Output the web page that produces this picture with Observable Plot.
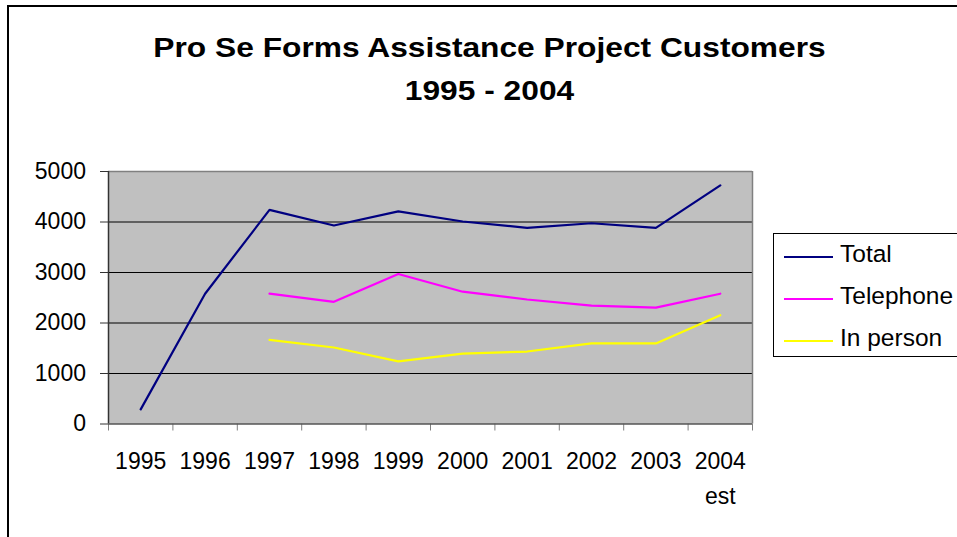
<!DOCTYPE html>
<html><head><meta charset="utf-8">
<script src="https://cdn.jsdelivr.net/npm/d3@7"></script>
<script src="https://cdn.jsdelivr.net/npm/@observablehq/plot@0.6"></script>
<style>
html,body{margin:0;padding:0}
body{width:957px;height:537px;overflow:hidden;background:#fff;position:relative;font-family:"Liberation Sans",Arial,sans-serif}
#border{position:absolute;left:7px;top:5px;width:1200px;height:800px;border:2px solid #000;box-sizing:border-box}
#chart{position:absolute;left:0;top:0}
.title{position:absolute;left:0;width:979px;text-align:center;font-weight:bold;font-size:27px;line-height:27px;white-space:nowrap;transform:scaleX(1.175);transform-origin:489.5px 0}
#legend{position:absolute;left:773px;top:233px;width:400px;height:124px;border:1px solid #000;box-sizing:border-box;background:#fff}
.li{position:absolute;left:0;font-size:24.5px;line-height:24px;white-space:nowrap}
.sw{position:absolute;left:10px;width:49px;height:2px}
.lt{position:absolute;left:66px}
</style></head>
<body>
<div id="border"></div>
<div id="chart"></div>
<div class="title" style="top:34.5px">Pro Se Forms Assistance Project Customers</div>
<div class="title" style="top:77.5px">1995 - 2004</div>
<div id="legend"></div>
<script>
const categories = ["1995","1996","1997","1998","1999","2000","2001","2002","2003","2004\nest"];
const seriesNames = ["Total","Telephone","In person"];
const seriesColors = ["#000080","#FF00FF","#FFFF00"];
const total     = [290, 2580, 4240, 3930, 4210, 4010, 3885, 3975, 3885, 4725];
const telephone = [null, null, 2580, 2420, 2970, 2620, 2465, 2345, 2305, 2580];
const inPerson  = [null, null, 1665, 1515, 1240, 1395, 1435, 1595, 1595, 2155];
const yTicks = [0, 1000, 2000, 3000, 4000, 5000];

const seriesValues = [total, telephone, inPerson];
const rows = [];
seriesNames.forEach((s, k) => {
  seriesValues[k].forEach((v, i) => { if (v != null) rows.push({series: s, i, value: v}); });
});
const idx = categories.map((_, i) => i);
const bounds = categories.map((_, i) => i - 0.5).concat([categories.length - 0.5]);

const plot = Plot.plot({
  width: 957, height: 537,
  marginLeft: 108, marginRight: 205, marginTop: 171, marginBottom: 113.5,
  style: {fontFamily: '"Liberation Sans", Arial, sans-serif', background: "transparent", overflow: "visible", color: "#000"},
  x: {type: "linear", domain: [-0.5, categories.length - 0.5]},
  y: {domain: [0, 5000]},
  color: {domain: seriesNames, range: seriesColors},
  marks: [
    Plot.frame({fill: "#c0c0c0", stroke: null}),
    Plot.ruleY(yTicks.slice(1, -1), {stroke: "#000", strokeWidth: 1.2}),
    Plot.ruleY([5000], {stroke: "#808080", strokeWidth: 1.5}),
    Plot.ruleX([categories.length - 0.5], {stroke: "#808080", strokeWidth: 1.5}),
    Plot.axisY({ticks: yTicks, tickSize: 8, tickPadding: 14.5, fontSize: 23, label: null, stroke: "#333", tickFormat: d => String(d)}),
    Plot.axisX({ticks: bounds, tickSize: 7, tickFormat: () => "", label: null, stroke: "#808080"}),
    Plot.axisX({ticks: idx, tickSize: 0, tickPadding: 20, fontSize: 23, lineHeight: 1.52, label: null, tickFormat: i => categories[i]}),
    Plot.ruleX([-0.5], {stroke: "#333", strokeWidth: 1.5}),
    Plot.ruleY([0], {stroke: "#555", strokeWidth: 1.5}),
    Plot.line(rows, {x: "i", y: "value", z: "series", stroke: "series", strokeWidth: 2.2, strokeLinejoin: "miter"})
  ]
});
document.getElementById("chart").appendChild(plot);

const legend = document.getElementById("legend");
const lineY = [23, 65, 107];
seriesNames.forEach((s, k) => {
  const sw = document.createElement("div");
  sw.className = "sw";
  sw.style.top = (lineY[k] - 1) + "px";
  sw.style.background = seriesColors[k];
  legend.appendChild(sw);
  const t = document.createElement("div");
  t.className = "li lt";
  t.style.top = (lineY[k] - 15) + "px";
  t.textContent = s;
  legend.appendChild(t);
});
</script>
</body></html>
